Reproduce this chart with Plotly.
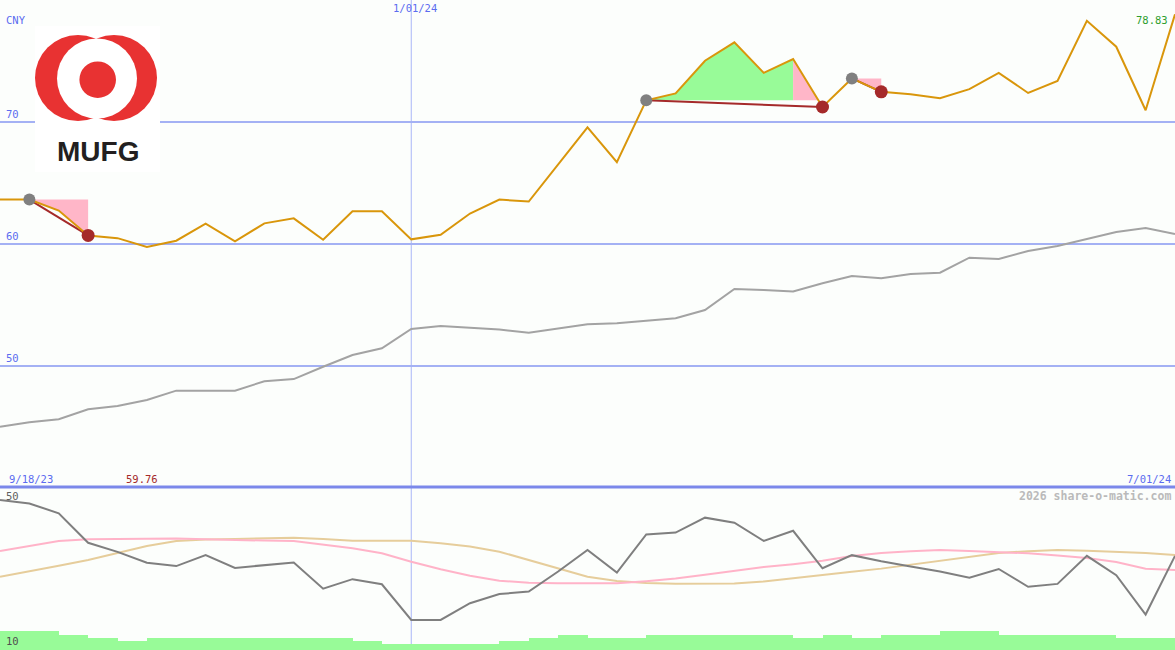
import plotly.graph_objects as go

# ---------------- data (weekly, 9/25/23 .. 7/01/24) ----------------
price = [63.64, 63.64, 62.74, 60.70, 60.48, 59.76, 60.27, 61.67, 60.21, 61.69,
         62.10, 60.35, 62.68, 62.68, 60.38, 60.76, 62.50, 63.64, 63.48, 66.50,
         69.56, 66.70, 71.78, 72.34, 75.02, 76.53, 74.03, 75.16, 71.23, 73.57,
         72.47, 72.28, 71.95, 72.69, 74.03, 72.38, 73.37, 78.29, 76.17, 70.96,
         78.83]
moving_avg = [45.02, 45.39, 45.63, 46.45, 46.72, 47.21, 47.98, 47.98, 47.98, 48.75,
              48.93, 49.94, 50.90, 51.45, 53.03, 53.28, 53.14, 52.99, 52.73, 53.09,
              53.42, 53.50, 53.69, 53.91, 54.59, 56.31, 56.23, 56.11, 56.78, 57.38,
              57.19, 57.54, 57.65, 58.88, 58.77, 59.43, 59.84, 60.41, 60.98, 61.31,
              60.82]
oscillator = [50.55, 49.6, 46.9, 38.8, 36.3, 33.3, 32.4, 35.4, 31.9, 32.7,
              33.4, 26.2, 28.8, 27.4, 17.6, 17.6, 22.2, 24.7, 25.4, 30.9,
              36.8, 30.6, 41.1, 41.6, 45.7, 44.3, 39.3, 42.1, 31.8, 35.4,
              33.7, 32.3, 30.9, 29.2, 31.6, 26.7, 27.5, 35.2, 29.9, 19.1,
              35.2]
osc_avg_pink = [36.54, 37.91, 39.29, 39.75, 39.84, 39.92, 39.97, 39.75, 39.48, 39.40,
                39.29, 38.38, 37.28, 35.91, 33.60, 31.51, 29.75, 28.38, 27.83, 27.66,
                27.75, 27.66, 28.24, 28.98, 30.03, 31.07, 32.12, 32.91, 33.87, 35.19,
                36.02, 36.48, 36.81, 36.54, 36.26, 35.91, 35.30, 34.64, 33.52, 31.68,
                31.32]
osc_avg_tan = [29.48, 30.91, 32.50, 34.07, 35.99, 37.91, 39.29, 39.73, 39.84, 39.92,
               40.19, 39.84, 39.37, 39.37, 39.37, 38.65, 37.75, 36.35, 34.01, 31.79,
               29.48, 28.30, 27.75, 27.53, 27.55, 27.64, 28.19, 29.01, 29.95, 30.82,
               31.70, 32.77, 33.90, 34.97, 35.99, 36.48, 36.79, 36.59, 36.29, 35.99,
               35.44]
volume = [19, 19, 15, 12, 9, 12, 12, 12, 12, 12, 12, 12, 9, 6, 6, 6, 6, 9, 12, 15,
          12, 12, 15, 15, 15, 15, 15, 12, 15, 12, 15, 15, 19, 19, 15, 15, 15, 15, 12, 12]
trades = [(1, 3), (22, 28), (29, 30)]          # (entry index, exit index)
price_grid = [50, 60, 70]
osc_labels = [50, 10]
year_marker_index = 14
start_label = "9/18/23"
end_label = "7/01/24"
year_label = "1/01/24"
currency = "CNY"

x = list(range(len(price)))

W, H = 1175, 650
def px(v): return v / W
def py(v): return 1 - v / H

BLUE_TXT = "#5b6cf0"
MONO = "DejaVu Sans Mono"
ORANGE = "#d9960b"
DARKRED = "#a52a2a"
PINK = "#ffb6c8"
GREEN = "#98fb98"

fig = go.Figure()

# moving average (top panel)
fig.add_trace(go.Scatter(x=x, y=moving_avg, mode="lines",
                         line=dict(color="#a3a3a3", width=2), yaxis="y"))

# trade fills
for a, b in trades:
    e = price[a]
    mids = list(range(a + 1, b))
    if mids and all(price[i] >= e for i in mids):
        gx = list(range(a, b)) + [b - 1, a]
        gy = price[a:b] + [e, e]
        fig.add_trace(go.Scatter(x=gx, y=gy, mode="lines", fill="toself",
                                 fillcolor=GREEN, line=dict(width=0), yaxis="y"))
        t = (price[b - 1] - e) / (price[b - 1] - price[b])
        xc = (b - 1) + t
        fig.add_trace(go.Scatter(x=[b - 1, xc, b - 1], y=[price[b - 1], e, e],
                                 mode="lines", fill="toself", fillcolor=PINK,
                                 line=dict(width=0), yaxis="y"))
    else:
        kx = list(range(a, b + 1)) + [b]
        ky = price[a:b + 1] + [e]
        fig.add_trace(go.Scatter(x=kx, y=ky, mode="lines", fill="toself",
                                 fillcolor=PINK, line=dict(width=0), yaxis="y"))

# entry -> exit lines
for a, b in trades:
    fig.add_trace(go.Scatter(x=[a, b], y=[price[a], price[b]], mode="lines",
                             line=dict(color=DARKRED, width=2), yaxis="y"))

# price line
fig.add_trace(go.Scatter(x=x, y=price, mode="lines",
                         line=dict(color=ORANGE, width=2), yaxis="y"))

# entry / exit markers
fig.add_trace(go.Scatter(x=[a for a, b in trades], y=[price[a] for a, b in trades],
                         mode="markers", marker=dict(color="#808080", size=12),
                         yaxis="y"))
fig.add_trace(go.Scatter(x=[b for a, b in trades], y=[price[b] for a, b in trades],
                         mode="markers", marker=dict(color=DARKRED, size=13),
                         yaxis="y"))

# bottom panel: volume bars
fig.add_trace(go.Bar(x=[i + 0.5 for i in range(len(volume))], y=volume, width=1,
                     marker=dict(color=GREEN, line=dict(width=0)), yaxis="y3"))
# oscillator + averages
fig.add_trace(go.Scatter(x=x, y=osc_avg_tan, mode="lines",
                         line=dict(color="#e6cd9b", width=2), yaxis="y2"))
fig.add_trace(go.Scatter(x=x, y=osc_avg_pink, mode="lines",
                         line=dict(color="#ffb3c8", width=2), yaxis="y2"))
fig.add_trace(go.Scatter(x=x, y=oscillator, mode="lines",
                         line=dict(color="#7f7f7f", width=2), yaxis="y2"))

split = py(488)

shapes = [
    # vertical year line
    dict(type="line", xref="x", yref="paper", x0=year_marker_index, x1=year_marker_index,
         y0=0, y1=1, line=dict(color="#a9b7f7", width=1), layer="below"),
    # separator
    dict(type="line", xref="paper", yref="paper", x0=0, x1=1, y0=py(487), y1=py(487),
         line=dict(color="#7b88ea", width=3), layer="above"),
    # logo
    dict(type="rect", xref="paper", yref="paper", x0=px(35), x1=px(160),
         y0=py(172), y1=py(26), fillcolor="#ffffff", line=dict(width=0), layer="above"),
    dict(type="circle", xref="paper", yref="paper", x0=px(35), x1=px(121),
         y0=py(121), y1=py(35), fillcolor="#e83232", line=dict(width=0), layer="above"),
    dict(type="circle", xref="paper", yref="paper", x0=px(71), x1=px(157),
         y0=py(121), y1=py(35), fillcolor="#e83232", line=dict(width=0), layer="above"),
    dict(type="circle", xref="paper", yref="paper", x0=px(57), x1=px(137),
         y0=py(118.5), y1=py(38.5), fillcolor="#ffffff", line=dict(width=0), layer="above"),
    dict(type="circle", xref="paper", yref="paper", x0=px(79.4), x1=px(116),
         y0=py(98), y1=py(61.4), fillcolor="#e83232", line=dict(width=0), layer="above"),
]

def ann(text, xx, yy, color=BLUE_TXT, size=10, xanchor="left", xref="paper",
        yref="paper", yanchor="middle", family=MONO, bold=False, xshift=0):
    if bold:
        text = "<b>" + text + "</b>"
    return dict(text=text, x=xx, y=yy, xref=xref, yref=yref, xanchor=xanchor,
                yanchor=yanchor, showarrow=False, xshift=xshift,
                font=dict(family=family, size=size, color=color))

i_min = price.index(min(price))
annotations = [
    ann(currency, px(4), py(20), size=10.5),
    ann(year_label, year_marker_index, py(8), xanchor="center", xref="x",
        size=10.5, xshift=4),
    ann(start_label, px(7), py(479), size=10.5),
    ann(end_label, px(1173), py(479), xanchor="right", size=10.5),
    ann(f"{price[i_min]:.2f}", i_min, py(479), color=DARKRED, xanchor="center",
        xref="x", size=10.5, xshift=-5),
    ann(f"{price[-1]:.2f}", px(1170), py(20), color="#2f9e2f", xanchor="right", size=10.5),
    ann("2026 share-o-matic.com", px(1173), py(496), color="#bababa",
        xanchor="right", size=11.5, bold=True),
    ann("MUFG", px(97.5), py(152), color="#231f20", size=28, xanchor="center",
        family="Liberation Sans, Arial", bold=True),
]
for g in price_grid:
    annotations.append(ann(str(g), px(4), g, yref="y", yanchor="bottom", size=10.5))
annotations.append(ann(str(osc_labels[0]), px(4), py(496), color="#606060", size=10.5))
annotations.append(ann(str(osc_labels[1]), px(4), py(641), color="#505050", size=10.5))

fig.update_layout(
    width=W, height=H,
    margin=dict(l=0, r=0, t=0, b=0),
    paper_bgcolor="#fcfefc", plot_bgcolor="rgba(0,0,0,0)",
    showlegend=False, bargap=0,
    xaxis=dict(range=[0, len(price) - 1], domain=[0, 1], visible=False,
               anchor="y2", fixedrange=True),
    yaxis=dict(domain=[split, 1], range=[40, 80], tickvals=price_grid,
               showgrid=True, gridcolor="#a4b1f4", gridwidth=2,
               showticklabels=False, zeroline=False, showline=False, anchor="x"),
    yaxis2=dict(domain=[0, split], range=[9.34, 53.85], showgrid=False,
                showticklabels=False, zeroline=False, anchor="x"),
    yaxis3=dict(domain=[0, split], range=[0, 162], overlaying="y2", visible=False,
                anchor="x"),
    shapes=shapes,
    annotations=annotations,
)

fig.write_html("out.html", config={"displayModeBar": False},
               post_script="document.body.style.margin='0';"
                           "document.body.style.background='#fcfefc';")
